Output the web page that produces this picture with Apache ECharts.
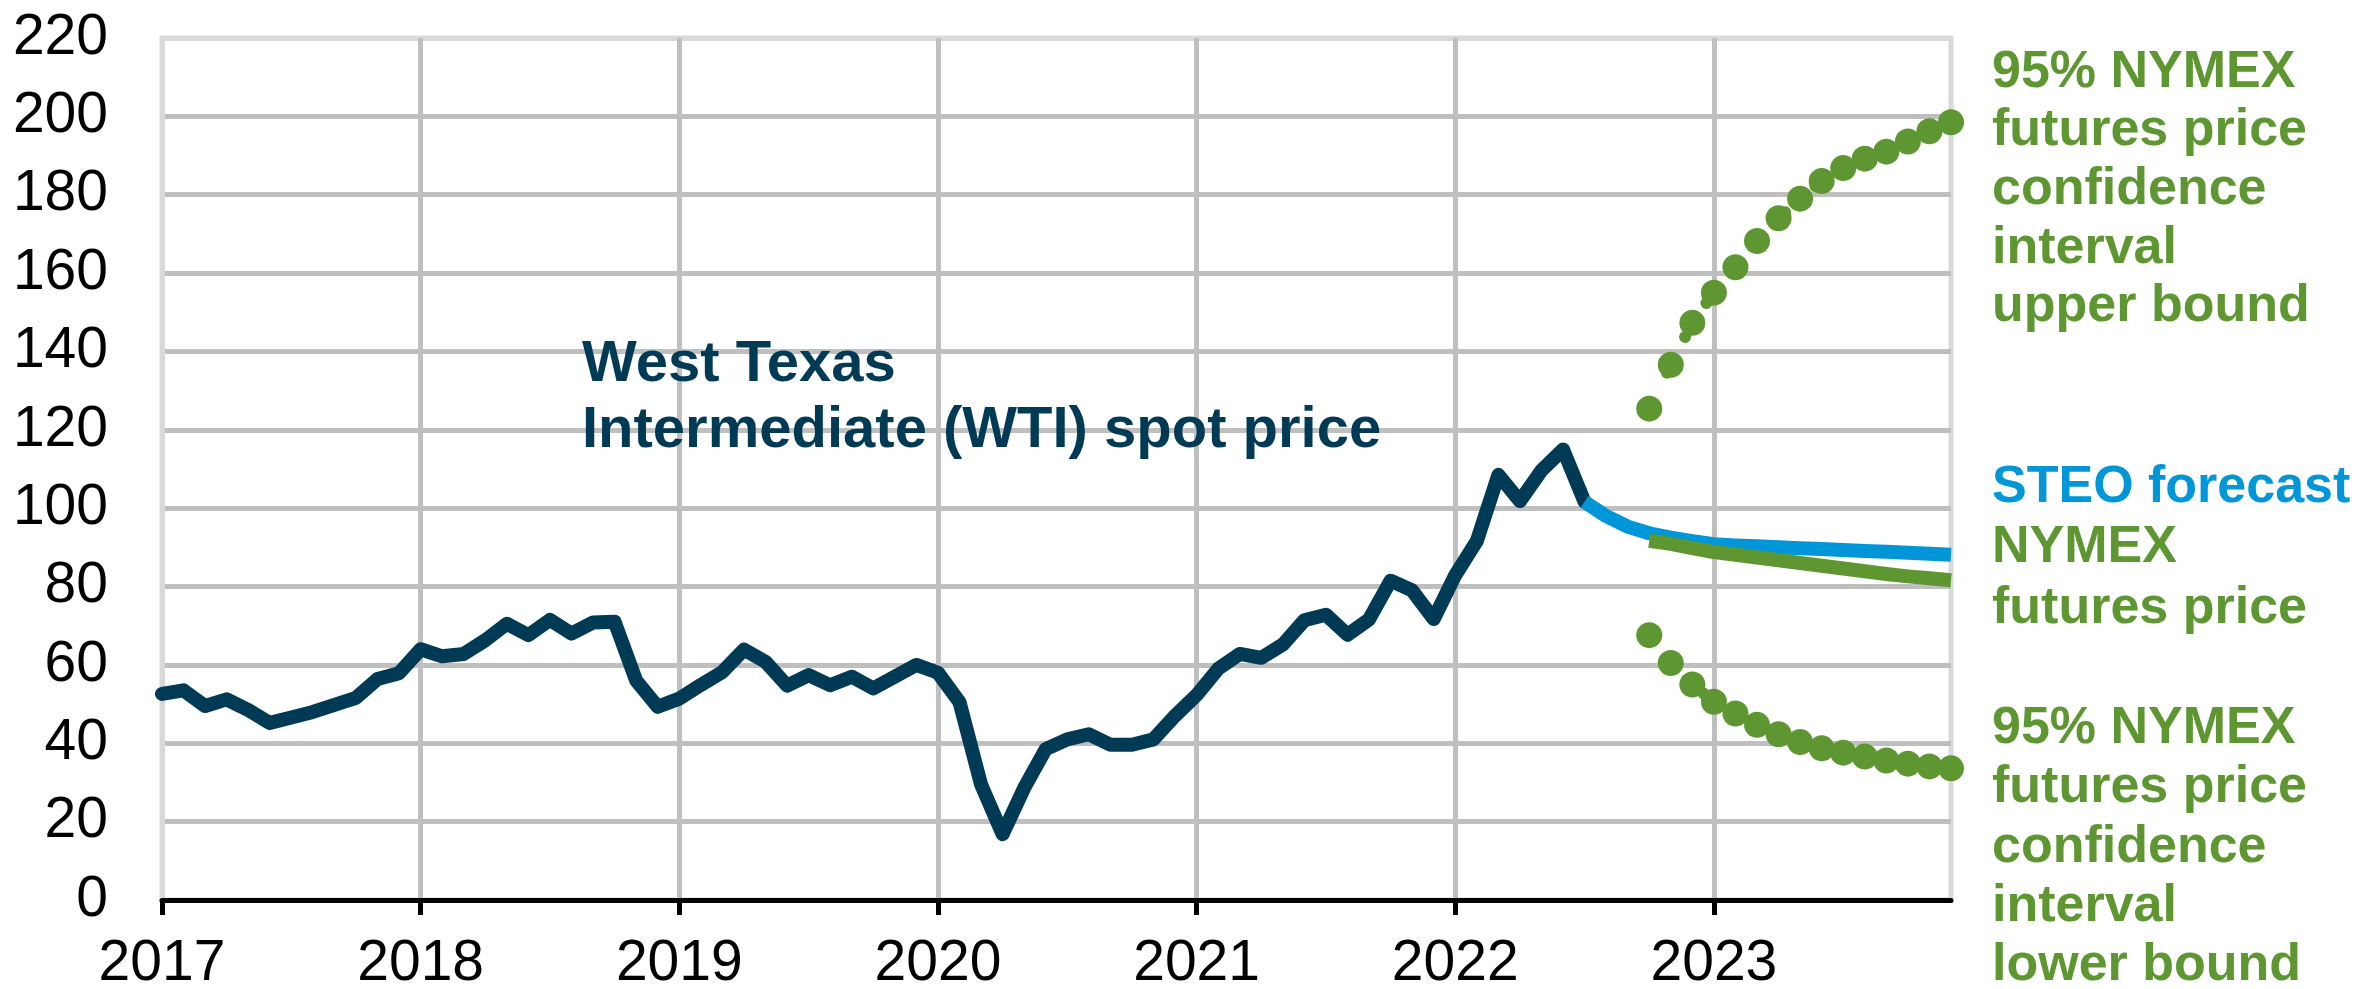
<!DOCTYPE html>
<html>
<head>
<meta charset="utf-8">
<script src="https://cdn.jsdelivr.net/npm/echarts@6/dist/echarts.min.js"></script>
<style>
html,body{margin:0;padding:0;background:#fff;}
#chart{width:2357px;height:989px;}
</style>
</head>
<body>
<div id="chart"></div>
<script>
// ---- data ----
const years = ['2017','2018','2019','2020','2021','2022','2023'];
const monthNums = ['01','02','03','04','05','06','07','08','09','10','11','12'];
const yTicks = {min: 0, max: 220, interval: 20};

// WTI spot price, monthly, Jan 2017 - Jul 2022
const wtiStart = '2017-01';
const wtiValues = [
  52.6, 53.5, 49.5, 51.2, 48.5, 45.2, 46.6, 48.0, 49.8, 51.6, 56.4, 57.9,
  64.0, 62.2, 62.8, 66.3, 70.5, 67.6, 71.5, 68.0, 70.8, 71.0, 56.0, 49.3,
  51.4, 54.9, 58.2, 63.9, 60.8, 54.7, 57.4, 54.8, 57.0, 54.0, 57.0, 60.0,
  58.0, 50.5, 29.5, 16.8, 28.6, 38.5, 41.0, 42.3, 39.6, 39.6, 41.0, 47.0,
  52.3, 59.0, 62.8, 61.8, 65.2, 71.4, 72.8, 67.7, 71.6, 81.5, 79.0, 71.7,
  82.9, 91.6, 108.5, 101.8, 109.6, 115.0, 101.6
];
// STEO forecast, Jul 2022 - Dec 2023
const steoStart = '2022-07';
const steoValues = [101.6, 98.0, 95.3, 93.6, 92.5, 91.6, 90.8, 90.5, 90.3, 90.0, 89.8, 89.6, 89.3, 89.1, 88.9, 88.6, 88.4, 88.1];
// NYMEX futures and 95% confidence bounds, Oct 2022 - Dec 2023
const nymexStart = '2022-10';
const futuresValues = [91.7, 90.9, 89.8, 88.8, 88.1, 87.4, 86.7, 86.0, 85.3, 84.6, 83.9, 83.2, 82.6, 82.1, 81.6];
const upperValues = [125.4, 136.6, 147.3, 155.0, 161.5, 168.2, 174.0, 179.0, 183.5, 186.8, 189.2, 191.0, 193.6, 196.2, 198.5];
const lowerValues = [67.6, 60.5, 55.0, 50.6, 47.6, 44.7, 42.3, 40.3, 38.7, 37.6, 36.6, 35.6, 34.8, 34.1, 33.6];

// ---- build ----
const categories = [];
years.forEach(y => monthNums.forEach(m => categories.push(y + '-' + m)));
function pairs(start, vals) {
  const i0 = categories.indexOf(start);
  return vals.map((v, i) => [categories[i0 + i], v]);
}

const NAVY = '#003A55', BLUE = '#0096D7', GREEN = '#5E9732';
const FONT = '"Liberation Sans", Arial, sans-serif';

const chart = echarts.init(document.getElementById('chart'), null, {renderer: 'canvas'});
const nY = (yTicks.max - yTicks.min) / yTicks.interval + 1;
const ySplitColors = [];
for (let i = 0; i < nY; i++) ySplitColors.push(i === nY - 1 ? '#d9d9d9' : '#bfbfbf');
const isJan = (idx) => idx % 12 === 0;

const dotted = {type: 'line', symbol: 'circle', symbolSize: 26, showSymbol: true, showAllSymbol: true,
  itemStyle: {color: GREEN}, lineStyle: {color: GREEN, width: 12, type: [0.1, 40], cap: 'round'}, z: 6, clip: false};

chart.setOption({
  animation: false,
  backgroundColor: '#ffffff',
  grid: {left: 162, right: 406, top: 38, bottom: 89, outerBoundsMode: 'none', containLabel: false,
         show: true, borderColor: '#d9d9d9', borderWidth: 5, backgroundColor: 'transparent'},
  xAxis: {
    type: 'category',
    data: categories,
    boundaryGap: false,
    axisLine: {show: true, lineStyle: {color: '#000', width: 5}},
    axisTick: {show: true, interval: (i) => isJan(i), length: 15, lineStyle: {color: '#000', width: 5}},
    axisLabel: {interval: (i) => isJan(i), formatter: (v) => v.slice(0, 4), fontSize: 57, fontFamily: FONT, color: '#000', margin: 36},
    splitLine: {show: true, interval: (i) => isJan(i), lineStyle: {color: ['#d9d9d9', '#bfbfbf', '#bfbfbf', '#bfbfbf', '#bfbfbf', '#bfbfbf', '#bfbfbf'], width: 5}}
  },
  yAxis: {
    type: 'value',
    min: yTicks.min, max: yTicks.max, interval: yTicks.interval,
    axisLine: {show: false},
    axisTick: {show: false},
    axisLabel: {fontSize: 57, fontFamily: FONT, color: '#000', margin: 54},
    splitLine: {show: true, lineStyle: {color: ySplitColors, width: 5}}
  },
  series: [
    {name: 'WTI', type: 'line', data: pairs(wtiStart, wtiValues), showSymbol: false, symbol: 'none',
     lineStyle: {color: NAVY, width: 14, cap: 'round', join: 'round'}, z: 3},
    {name: 'STEO', type: 'line', data: pairs(steoStart, steoValues), showSymbol: false, symbol: 'none',
     lineStyle: {color: BLUE, width: 14, cap: 'butt', join: 'round'}, z: 4, clip: false},
    {name: 'Futures', type: 'line', data: pairs(nymexStart, futuresValues), showSymbol: false, symbol: 'none',
     lineStyle: {color: GREEN, width: 14, cap: 'butt', join: 'round'}, z: 5, clip: false},
    Object.assign({name: 'Upper', data: pairs(nymexStart, upperValues)}, dotted),
    Object.assign({name: 'Lower', data: pairs(nymexStart, lowerValues)}, dotted)
  ],
  graphic: [
    {type: 'text', left: 582, top: 332, z: 10, style: {text: 'West Texas\nIntermediate (WTI) spot price', font: 'bold 58px ' + FONT, fill: NAVY, lineHeight: 66}},
    {type: 'text', left: 1992, top: 43, z: 10, style: {text: '95% NYMEX\nfutures price\nconfidence\ninterval\nupper bound', font: 'bold 52px ' + FONT, fill: GREEN, lineHeight: 58.7}},
    {type: 'text', left: 1992, top: 457, z: 10, style: {text: 'STEO forecast', font: 'bold 52px ' + FONT, fill: BLUE, lineHeight: 60.5}},
    {type: 'text', left: 1992, top: 517.5, z: 10, style: {text: 'NYMEX\nfutures price', font: 'bold 52px ' + FONT, fill: GREEN, lineHeight: 60.5}},
    {type: 'text', left: 1992, top: 699, z: 10, style: {text: '95% NYMEX\nfutures price\nconfidence\ninterval\nlower bound', font: 'bold 52px ' + FONT, fill: GREEN, lineHeight: 59.3}}
  ]
});
</script>
</body>
</html>
